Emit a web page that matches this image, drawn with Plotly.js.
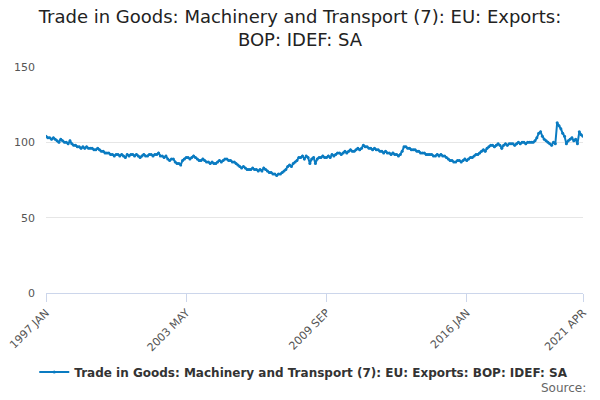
<!DOCTYPE html>
<html><head><script src="https://cdn.plot.ly/plotly-3.0.1.min.js"></script></head>
<body style="margin:0"><div id="c" style="width:600px;height:400px"></div>
<script>
const months=["JAN","FEB","MAR","APR","MAY","JUN","JUL","AUG","SEP","OCT","NOV","DEC"];
const startYear=1997;
const values=[
104,103,103,102,103,102,101,100,102,101,100,100,
99,101,99,98,98,97,97,96,97,96,97,96,
96,96,95,95,96,95,94,94,93,93,93,92,
92,91,92,92,91,92,91,90,92,91,92,92,
91,92,91,90,91,92,91,91,92,92,91,92,
92,93,91,91,90,91,89,88,89,89,87,86,
86,85,88,89,90,90,89,90,91,90,89,88,
88,89,88,87,87,86,87,86,86,87,88,87,
88,89,89,88,88,87,87,86,85,84,83,84,
83,82,82,82,83,82,82,81,82,81,83,82,
81,80,80,79,79,78,79,79,80,81,82,84,
85,84,86,87,88,90,90,91,89,91,90,86,
89,90,86,89,90,90,91,90,90,91,90,92,
91,92,93,93,92,93,94,93,94,95,94,94,
95,96,95,96,98,97,97,96,96,95,96,95,
95,94,94,93,94,93,93,92,93,92,92,91,
92,94,97,97,96,96,95,95,95,94,94,93,
93,93,92,92,92,92,91,91,92,91,92,91,
91,90,89,88,88,87,87,88,88,87,88,89,
88,89,90,90,91,92,92,93,94,95,94,96,
97,98,98,97,98,99,98,96,98,99,98,99,
99,99,98,99,100,99,100,100,99,100,100,100,
100,101,103,106,107,104,102,101,100,99,98,100,
99,113,111,109,106,104,99,101,102,103,101,102,
99,107,105,104
];
const labels=values.map((v,i)=>(startYear+Math.floor(i/12))+" "+months[i%12]);
const idx=values.map((v,i)=>i);
const tickIdx=[0,76,152,228,291];
const tickText=["1997 JAN","2003 MAY","2009 SEP","2016 JAN","2021 APR"];
const name="Trade in Goods: Machinery and Transport (7): EU: Exports: BOP: IDEF: SA";
Plotly.newPlot("c",[{x:idx,y:values,text:labels,type:"scatter",mode:"lines+markers",name:name,
 line:{color:"#0a7bc1",width:2},marker:{color:"#0a7bc1",size:3}}],{
 width:600,height:400,
 title:{text:"Trade in Goods: Machinery and Transport (7): EU: Exports:<br>BOP: IDEF: SA",font:{family:"DejaVu Sans",size:18,color:"#222"},x:0.5,y:0.943},
 font:{family:"DejaVu Sans",color:"#555",size:11},
 margin:{l:46,r:17,t:67,b:107},
 xaxis:{range:[0,291],tickvals:tickIdx,ticktext:tickText,tickangle:-45,showgrid:false,showline:true,linecolor:"#ccd6eb",ticks:"outside",ticklen:8,tickcolor:"#ccd6eb",zeroline:false},
 yaxis:{range:[0,150],tickvals:[0,50,100,150],gridcolor:"#e6e6e6",zeroline:false,ticks:"",ticklabelstandoff:10},
 showlegend:true,legend:{orientation:"h",x:0.48,xanchor:"center",y:-0.35,yanchor:"middle",font:{size:12,color:"#333",family:"DejaVu Sans",weight:"bold"}},
 annotations:[{text:"Source:",xref:"paper",yref:"paper",x:1.01,y:-0.42,xanchor:"right",yanchor:"middle",showarrow:false,font:{size:12,color:"#666"}}]
},{displayModeBar:false});
</script></body></html>
